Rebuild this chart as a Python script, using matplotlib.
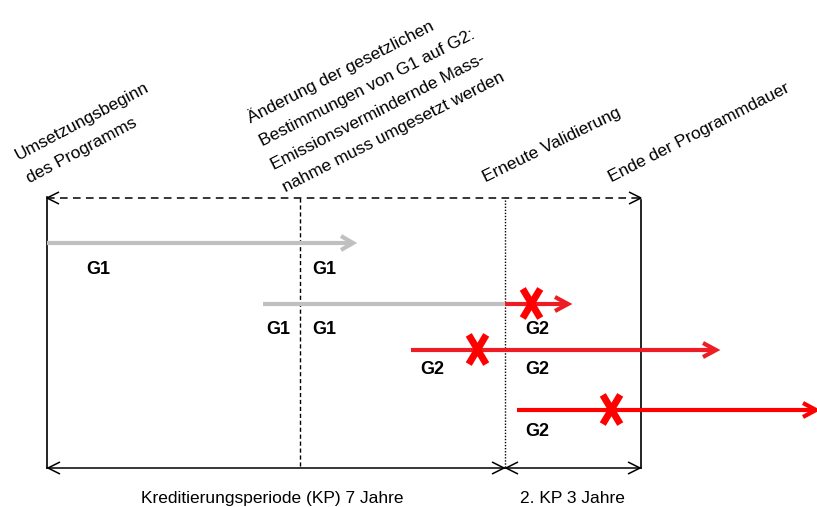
import matplotlib
matplotlib.use('Agg')
import matplotlib.pyplot as plt
from matplotlib import font_manager
from matplotlib.path import Path

# font: Arial Narrow look-alike if present
try:
    font_manager.findfont('Liberation Sans Narrow', fallback_to_default=False)
    FONT, FS, GFS = 'Liberation Sans Narrow', 15, 14
except ValueError:
    FONT, FS, GFS = 'Liberation Sans', 12.5, 13
plt.rcParams['font.family'] = [FONT, 'DejaVu Sans']

# schematic time axis (diagram x positions)
t_start = 47
t_change = 300
t_reval = 505
t_end = 641
y_top = 198
y_bottom = 468

# programme rows
row_y = [243, 304, 350, 410]
gray_rows = [0, 1]
gray_x0 = [47, 263]
gray_x1 = [353, 505]
gray_head = [True, False]
red_rows = [1, 2, 3]
red_x0 = [505, 411, 517]
red_x1 = [568, 716, 816]
red_cols = ['#ed1c24', '#ee1c25', '#ff0000']
cross_x = [531, 477, 611]

# G labels
g_text = ['G1', 'G1', 'G1', 'G1', 'G2', 'G2', 'G2', 'G2']
g_x = [98, 324, 278, 324, 537, 432, 537, 537]
g_y = [270, 270, 329, 329, 329, 370, 370, 431]

# rotated event labels (anchored at start of last line)
ev_text = ['Umsetzungsbeginn\ndes Programms',
           'Änderung der gesetzlichen\nBestimmungen von G1 auf G2:\n'
           'Emissionsvermindernde Mass-\nnahme muss umgesetzt werden',
           'Erneute Validierung',
           'Ende der Programmdauer']
ev_x = [25, 281, 486, 612]
ev_y = [174, 183, 182, 182]
ev_rot = [28, 27, 26, 27]

# period labels
per_text = ['Kreditierungsperiode (KP) 7 Jahre', '2. KP 3 Jahre']
per_x = [272, 572]
per_y = [503, 503]

fig = plt.figure(figsize=(8.17, 5.07), dpi=100)
ax = fig.add_axes([0, 0, 1, 1])
ax.set_xlim(0, 817)
ax.set_ylim(507, 0)
ax.axis('off')


def chevron(x, y, d, length, half, **kw):
    ax.plot([x - d * length, x, x - d * length], [y - half, y, y + half],
            solid_joinstyle='miter', solid_capstyle='butt', **kw)


# frame lines
ax.plot([t_start, t_start], [y_top - 1, y_bottom], color='black', lw=1.2)
ax.plot([t_end, t_end], [y_top + 2, y_bottom], color='black', lw=1.2)
ax.plot([t_change, t_change], [y_top, y_bottom], color='black', lw=1,
        linestyle=(0, (3, 2)))
ax.plot([t_reval, t_reval], [y_top + 2, y_bottom], color='black', lw=1,
        linestyle=(0, (1, 1.2)))

# top dashed double arrow
ax.plot([t_start, t_end], [y_top, y_top], color='black', lw=1.1,
        linestyle=(0, (5, 3.5)))
chevron(t_start, y_top, -1, 12, 6, color='black', lw=1.1)
chevron(t_end, y_top, 1, 12, 6, color='black', lw=1.1)

# bottom double arrows
for a, b in [(t_start, t_reval), (t_reval, t_end)]:
    ax.plot([a, b], [y_bottom, y_bottom], color='black', lw=1.1)
    chevron(a + 1, y_bottom, -1, 12, 6, color='black', lw=1.1)
    chevron(b - 1, y_bottom, 1, 12, 6, color='black', lw=1.1)

# gray (G1) rows
for r, x0, x1, h in zip(gray_rows, gray_x0, gray_x1, gray_head):
    y = row_y[r]
    ax.plot([x0, x1 - (2 if h else 0)], [y, y], color='#c0c0c0', lw=3,
            solid_capstyle='butt')
    if h:
        chevron(x1, y, 1, 12, 7, color='#c0c0c0', lw=3)

# red (G2) rows
for r, x0, x1, c in zip(red_rows, red_x0, red_x1, red_cols):
    y = row_y[r]
    ax.plot([x0, x1 - 2], [y, y], color=c, lw=3, solid_capstyle='butt')
    chevron(x1, y, 1, 13, 7, color=c, lw=3)

# crosses
x_marker = Path([(-0.3, -0.5), (0.3, 0.5), (-0.3, 0.5), (0.3, -0.5)],
                [Path.MOVETO, Path.LINETO, Path.MOVETO, Path.LINETO])
for r, cx in zip(red_rows, cross_x):
    ax.plot(cx, row_y[r] - 1, marker=x_marker, markersize=21, mew=5,
            color='#ff0000', linestyle='none')

for t, x, y in zip(g_text, g_x, g_y):
    ax.text(x, y, t, ha='center', va='center', fontsize=GFS,
            fontweight='bold')

for t, x, y, rot in zip(ev_text, ev_x, ev_y, ev_rot):
    ax.text(x, y, t, ha='left', va='baseline', rotation=rot,
            rotation_mode='anchor', fontsize=FS, linespacing=1.9)

for t, x, y in zip(per_text, per_x, per_y):
    ax.text(x, y, t, ha='center', va='baseline', fontsize=FS)

fig.savefig('out.png', dpi=100)
